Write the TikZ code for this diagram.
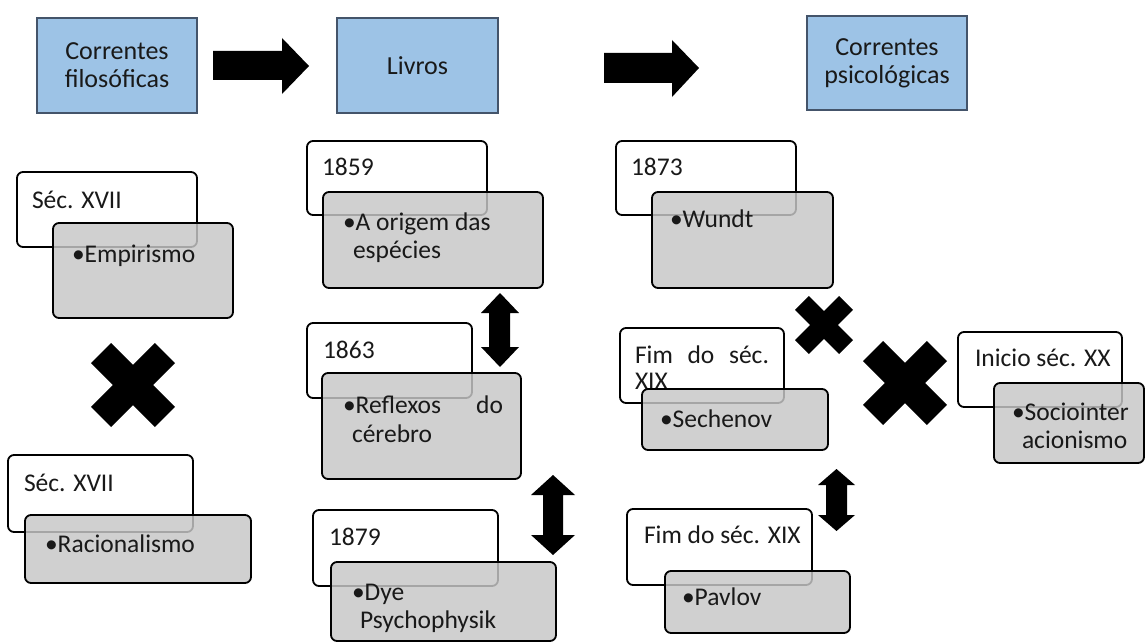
\documentclass[tikz,border=0pt]{standalone}
\usepackage{fontspec}
\setmainfont{Carlito}
\definecolor{hdrblue}{RGB}{157,195,230}
\definecolor{hdrborder}{RGB}{68,84,106}
\definecolor{boxgray}{RGB}{199,199,199}
\definecolor{txt}{RGB}{25,25,25}
\newcommand\hdrfont{\fontsize{26}{28}\selectfont}
\newcommand\bodyfont{\fontsize{25.5}{28}\selectfont}
\newcommand\xcrossmark[3]{%
  \begin{scope}[shift={(#1,#2)},scale=#3]
    \fill[black] (-0.52,-1) -- (0,-0.48) -- (0.52,-1) -- (1,-0.52) -- (0.48,0) -- (1,0.52)
      -- (0.52,1) -- (0,0.48) -- (-0.52,1) -- (-1,0.52) -- (-0.48,0) -- (-1,-0.52) -- cycle;
  \end{scope}}
% double arrow: x-left, x-right, shaft-left, shaft-right, y-top, y-bottom, head length
\newcommand\vdblarrow[7]{%
  \fill[black] ({(#1+#2)/2},#5) -- (#2,#5+#7) -- (#4,#5+#7) -- (#4,#6-#7) -- (#2,#6-#7)
    -- ({(#1+#2)/2},#6) -- (#1,#6-#7) -- (#3,#6-#7) -- (#3,#5+#7) -- (#1,#5+#7) -- cycle;}
\tikzset{
  hbox/.style={draw=hdrborder, line width=2.5pt, fill=hdrblue, anchor=north west,
    inner sep=0pt, outer sep=0pt, align=center, font=\hdrfont, text=txt},
  wbox/.style={draw=black, line width=1.8pt, rounded corners=6pt, fill=white,
    anchor=north west, inner sep=0pt, outer sep=0pt},
  gbox/.style={draw=black, line width=1.8pt, rounded corners=6pt, fill=boxgray,
    fill opacity=0.83, draw opacity=1, anchor=north west, inner sep=0pt, outer sep=0pt},
  lbl/.style={anchor=base west, inner sep=0pt, outer sep=0pt, font=\bodyfont, text=txt}
}
\begin{document}
\begin{tikzpicture}[x=1pt,y=-1pt]
\useasboundingbox (0,0) rectangle (1146,642);
\fill[white] (0,0) rectangle (1146,642);

% headers
\node[hbox, minimum width=160pt, minimum height=95pt] (h1) at (37,18) {Correntes\\filosóficas};
\node[hbox, minimum width=161pt, minimum height=95pt] (h2) at (337,18) {Livros};
\node[hbox, minimum width=160pt, minimum height=94pt] (h3) at (807,16) {Correntes\\psicológicas};

% header block arrows
\fill[black] (213,51) -- (282,51) -- (282,38) -- (309,66) -- (282,94) -- (282,80) -- (213,80) -- cycle;
\fill[black] (604,53) -- (672,53) -- (672,40) -- (699,68) -- (672,97) -- (672,83) -- (604,83) -- cycle;

% left column
\node[wbox, minimum width=180pt, minimum height=75pt] (w1) at (17,172) {};
\node[gbox, minimum width=180pt, minimum height=95pt] (g1) at (53,223) {};
\node[lbl] (t1a) at (32,208) {Séc. XVII};
\node[lbl] (t1b) at (72,262) {•Empirismo};

\xcrossmark{133}{385}{42}

\node[wbox, minimum width=185pt, minimum height=77pt] (w2) at (8,455) {};
\node[gbox, minimum width=226pt, minimum height=68pt] (g2) at (25,515) {};
\node[lbl] (t2a) at (24,491) {Séc. XVII};
\node[lbl] (t2b) at (45,552) {•Racionalismo};

% middle column
\node[wbox, minimum width=180pt, minimum height=74pt] (w3) at (307,141) {};
\node[gbox, minimum width=220pt, minimum height=96pt] (g3) at (323,192) {};
\node[lbl] (t3a) at (322,175) {1859};
\node[lbl] (t3b) at (343,230) {•A origem das};
\node[lbl] (t3c) at (353,258) {espécies};

\vdblarrow{481}{519}{489}{510}{293}{367}{20}

\node[wbox, minimum width=165pt, minimum height=75pt] (w4) at (307,323) {};
\node[gbox, minimum width=199pt, minimum height=106pt] (g4) at (322,373) {};
\node[lbl] (t4a) at (323,358) {1863};
\node[lbl] (t4b) at (343,413) {\hbox to 160pt{•Reflexos\hfill do}};
\node[lbl] (t4c) at (352,442) {cérebro};

\vdblarrow{531}{575}{543}{563}{475}{555}{20}

\node[wbox, minimum width=185pt, minimum height=76pt] (w5) at (313,510) {};
\node[gbox, minimum width=225pt, minimum height=79pt] (g5) at (331,562) {};
\node[lbl] (t5a) at (329,545) {1879};
\node[lbl] (t5b) at (352,600) {•Dye};
\node[lbl] (t5c) at (360,628) {Psychophysik};

% right column
\node[wbox, minimum width=180pt, minimum height=74pt] (w6) at (616,141) {};
\node[gbox, minimum width=181pt, minimum height=96pt] (g6) at (652,192) {};
\node[lbl] (t6a) at (631,175) {1873};
\node[lbl] (t6b) at (670,227) {•Wundt};

\xcrossmark{824}{325}{29}
\xcrossmark{905}{383}{42}

\node[wbox, minimum width=164pt, minimum height=75pt] (w7) at (620,328) {};
\node[lbl] (t7a) at (635,363) {\hbox to 134pt{Fim\hfill do\hfill séc.}};
\node[lbl] (t7b) at (635,389) {XIX};
\node[gbox, minimum width=186pt, minimum height=61pt] (g7) at (642,389) {};
\node[lbl] (t7c) at (660,427) {•Sechenov};

\vdblarrow{818}{855}{826}{847}{469}{531}{16}

\node[wbox, minimum width=185pt, minimum height=76pt] (w8) at (627,509) {};
\node[gbox, minimum width=185pt, minimum height=62pt] (g8) at (665,571) {};
\node[lbl] (t8a) at (644,543) {Fim do séc. XIX};
\node[lbl] (t8b) at (682,605) {•Pavlov};

\node[wbox, minimum width=164pt, minimum height=75pt] (w9) at (958,332) {};
\node[gbox, minimum width=150pt, minimum height=80pt] (g9) at (994,383) {};
\node[lbl] (t9a) at (975,366) {Inicio séc. XX};
\node[lbl] (t9b) at (1012,420) {•Sociointer};
\node[lbl] (t9c) at (1022,448) {acionismo};
\end{tikzpicture}
\end{document}
